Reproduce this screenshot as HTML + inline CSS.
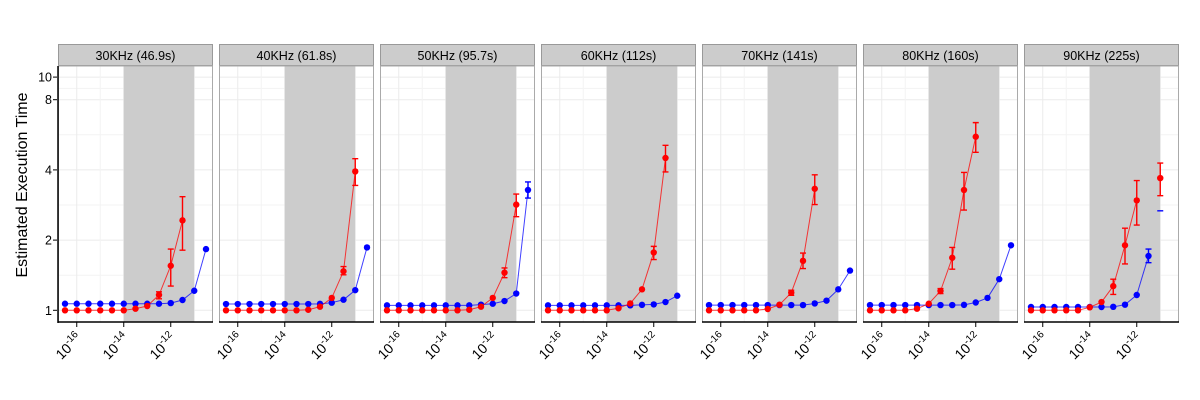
<!DOCTYPE html>
<html><head><meta charset="utf-8"><style>
body{margin:0;background:#fff;}
svg{display:block;font-family:"Liberation Sans",sans-serif;}
</style></head><body>
<svg id="chart" width="1200" height="400" viewBox="0 0 1200 400" xmlns="http://www.w3.org/2000/svg"></svg>
<script>
const panels = ["30KHz (46.9s)","40KHz (61.8s)","50KHz (95.7s)","60KHz (112s)","70KHz (141s)","80KHz (160s)","90KHz (225s)"];
const xExp = [-16.5,-16,-15.5,-15,-14.5,-14,-13.5,-13,-12.5,-12,-11.5,-11,-10.5];
const redVals = [
 [1,1,1,1,1,1,1.016,1.043,1.163,1.553,2.43,null,null],
 [1,1,1,1,1,1,1,1.005,1.036,1.13,1.47,3.94,null],
 [1,1,1,1,1,1,1,1.005,1.036,1.13,1.45,2.84,null],
 [1,1,1,1,1,1,1.02,1.07,1.23,1.77,4.5,null,null],
 [1,1,1,1,1,1.013,1.057,1.19,1.63,3.32,null,null,null],
 [1,1,1,1,1.016,1.067,1.21,1.68,3.28,5.55,null,null,null],
 [1,1,1,1,1,1.03,1.085,1.27,1.9,2.96,null,3.69,null]
];
const redLo = [
 [null,null,null,null,null,null,null,null,1.12,1.27,1.81,null,null],
 [null,null,null,null,null,null,null,null,null,null,1.42,3.43,null],
 [null,null,null,null,null,null,null,null,null,null,1.38,2.52,null],
 [null,null,null,null,null,null,null,null,null,1.65,3.92,null,null],
 [null,null,null,null,null,null,null,1.16,1.51,2.84,null,null,null],
 [null,null,null,null,null,null,1.18,1.5,2.69,4.76,null,null,null],
 [null,null,null,null,null,null,null,1.17,1.58,2.32,null,3.1,null]
];
const redHi = [
 [null,null,null,null,null,null,null,null,1.2,1.83,3.07,null,null],
 [null,null,null,null,null,null,null,null,null,null,1.54,4.47,null],
 [null,null,null,null,null,null,null,null,null,null,1.52,3.15,null],
 [null,null,null,null,null,null,null,null,null,1.88,5.1,null,null],
 [null,null,null,null,null,null,null,1.22,1.76,3.81,null,null,null],
 [null,null,null,null,null,null,1.24,1.86,3.9,6.38,null,null,null],
 [null,null,null,null,null,null,null,1.36,2.25,3.6,null,4.28,null]
];
const blueVals = [
 [1.067,1.067,1.067,1.067,1.067,1.067,1.067,1.067,1.067,1.074,1.107,1.213,1.83],
 [1.064,1.064,1.064,1.064,1.064,1.064,1.064,1.064,1.066,1.078,1.11,1.22,1.86],
 [1.05,1.05,1.05,1.05,1.05,1.05,1.05,1.05,1.057,1.067,1.096,1.18,3.28],
 [1.05,1.05,1.05,1.05,1.05,1.05,1.05,1.05,1.055,1.06,1.085,1.155,null],
 [1.053,1.053,1.053,1.053,1.053,1.053,1.053,1.053,1.053,1.07,1.1,1.23,1.48],
 [1.053,1.053,1.053,1.053,1.053,1.053,1.053,1.053,1.055,1.08,1.13,1.36,1.9],
 [1.033,1.033,1.033,1.033,1.033,1.033,1.033,1.035,1.057,1.163,1.71,null,null]
];
const blueLo = [
 [null,null,null,null,null,null,null,null,null,null,null,null,null],
 [null,null,null,null,null,null,null,null,null,null,null,null,null],
 [null,null,null,null,null,null,null,null,null,null,null,null,3.03],
 [null,null,null,null,null,null,null,null,null,null,null,null,null],
 [null,null,null,null,null,null,null,null,null,null,null,null,null],
 [null,null,null,null,null,null,null,null,null,null,null,null,null],
 [null,null,null,null,null,null,null,null,null,null,1.6,2.67,null]
];
const blueHi = [
 [null,null,null,null,null,null,null,null,null,null,null,null,null],
 [null,null,null,null,null,null,null,null,null,null,null,null,null],
 [null,null,null,null,null,null,null,null,null,null,null,null,3.55],
 [null,null,null,null,null,null,null,null,null,null,null,null,null],
 [null,null,null,null,null,null,null,null,null,null,null,null,null],
 [null,null,null,null,null,null,null,null,null,null,null,null,null],
 [null,null,null,null,null,null,null,null,null,null,1.83,2.67,null]
];
const yTicks = [1,2,4,8,10];
const yMinor = [1.414,2.828,5.657,8.944];
const xTicks = [-16,-14,-12];
const xMinor = [-17,-15,-13,-11];
const band = [-14,-11];

const NS="http://www.w3.org/2000/svg";
const svg=document.getElementById('chart');
function mk(tag,attrs,parent){const e=document.createElementNS(NS,tag);for(const k in attrs)e.setAttribute(k,attrs[k]);(parent||svg).appendChild(e);return e;}
const P0=58, PSTEP=161, PW=155, PT=66, PB=322;
function xs(p,e){return P0+p*PSTEP+7+(e+16.5)*23.5;}
function ys(v){return 310.3-Math.log2(v)*70.2;}

const yt=mk('text',{x:0,y:0,'font-size':16,'text-anchor':'middle',transform:'translate(27,185) rotate(-90)',fill:'#000'});


yt.textContent='Estimated Execution Time';

yTicks.forEach(v=>{
 const t=mk('text',{x:52,y:ys(v)+4.5,'font-size':12.5,'text-anchor':'end',fill:'#000'});
 
 
 t.textContent=v;
 mk('line',{x1:53,x2:57,y1:ys(v),y2:ys(v),stroke:'#000','stroke-width':1});
});

panels.forEach((title,p)=>{
 const g=mk('g',{});
 
 
 const L=P0+p*PSTEP;
 const s=mk('rect',{x:L+0.5,y:44.5,width:PW-1,height:21,fill:'#cccccc',stroke:'#999','stroke-width':1},g);
 
 
 const st=mk('text',{x:L+PW/2,y:60,'font-size':12.5,'text-anchor':'middle',fill:'#000'},g);
 
 
 st.textContent=title;
 mk('rect',{x:L,y:PT,width:PW,height:PB-PT,fill:'#fff'},g);
 yMinor.forEach(v=>mk('line',{x1:L,x2:L+PW,y1:ys(v),y2:ys(v),stroke:'#f3f3f3','stroke-width':1},g));
 yTicks.forEach(v=>mk('line',{x1:L,x2:L+PW,y1:ys(v),y2:ys(v),stroke:'#ebebeb','stroke-width':1},g));
 xMinor.forEach(e=>{const x=xs(p,e);if(x>L&&x<L+PW)mk('line',{x1:x,x2:x,y1:PT,y2:PB,stroke:'#f3f3f3','stroke-width':1},g);});
 xTicks.forEach(e=>mk('line',{x1:xs(p,e),x2:xs(p,e),y1:PT,y2:PB,stroke:'#ebebeb','stroke-width':1},g));
 const b=mk('rect',{x:xs(p,band[0]),y:PT,width:xs(p,band[1])-xs(p,band[0]),height:PB-PT,fill:'#cccccc'},g);
 
 
 [[blueVals,blueLo,blueHi,'#0000ff','blue'],[redVals,redLo,redHi,'#ff0000','red']].forEach(([V,LO,HI,col,nm])=>{
  const vals=V[p];
  let seg=[];const segs=[];
  vals.forEach((v,i)=>{if(v==null){if(seg.length)segs.push(seg);seg=[];}else seg.push([xs(p,xExp[i]),ys(v)]);});
  if(seg.length)segs.push(seg);
  segs.forEach(sg=>{if(sg.length>1){const pl=mk('polyline',{points:sg.map(q=>q.join(',')).join(' '),fill:'none',stroke:col,'stroke-width':1,'stroke-opacity':0.75},g);
   
   }});
  LO[p].forEach((lo,i)=>{const hi=HI[p][i];if(lo==null||hi==null)return;const x=xs(p,xExp[i]);
   const eb=mk('path',{d:`M${x-3},${ys(hi)}H${x+3}M${x},${ys(hi)}V${ys(lo)}M${x-3},${ys(lo)}H${x+3}`,stroke:col,'stroke-width':1.4,fill:'none'},g);
   
   });
  vals.forEach((v,i)=>{if(v==null)return;
   const c=mk('circle',{cx:xs(p,xExp[i]),cy:ys(v),r:3.2,fill:col},g);
   
   });
 });
 mk('rect',{x:L+0.5,y:PT,width:PW-1,height:PB-PT,fill:'none',stroke:'#aaa','stroke-width':1},g);
 if(p===0)mk('line',{x1:L,x2:L,y1:PT,y2:PB+1,stroke:'#000','stroke-width':1.5},g);
 mk('line',{x1:L,x2:L+PW,y1:PB,y2:PB,stroke:'#000','stroke-width':1.5},g);
 xTicks.forEach(e=>{const x=xs(p,e);
  mk('line',{x1:x,x2:x,y1:PB,y2:PB+5,stroke:'#000','stroke-width':1},g);
  const t=mk('text',{x:0,y:0,'font-size':14,'text-anchor':'end',fill:'#000',transform:`translate(${x+6},${PB+17}) rotate(-45)`},g);
  
  
  t.innerHTML='10<tspan dy="-6" font-size="10">-'+(-e)+'</tspan>';
 });
});
</script>
</body></html>
